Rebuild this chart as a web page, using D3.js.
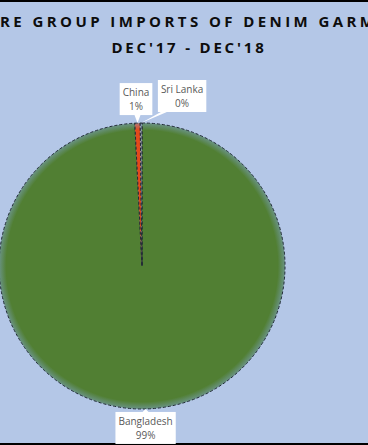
<!DOCTYPE html>
<html>
<head>
<meta charset="utf-8">
<script src="https://cdn.jsdelivr.net/npm/d3@7"></script>
<style>
  body { margin: 0; background: #b4c7e7; }
  svg { display: block; }
</style>
</head>
<body>
<div id="pie-chart-area"></div>
<script>
/* javascript */

// data (shares in %)
var categories = ["Bangladesh", "China", "Sri Lanka"];
var shares = [99.2, 0.6, 0.2];
var sliceColors = ["#517f33", "#e4491b", "#8a96a6"];
var titleLines = ["RE GROUP IMPORTS OF DENIM GARM", "DEC'17 - DEC'18"];

// where each callout box sits relative to its slice edge
var labelOffsets = [
  { dx: 0, dy: 19 },
  { dx: -1.5, dy: -24 },
  { dx: 41, dy: -27 }
];

var width = 368;
var height = 445;
var cx = 142, cy = 266, radius = 143;

var data = categories.map((c, i) => ({ name: c, value: shares[i], color: sliceColors[i], off: labelOffsets[i] }));

var svg = d3
  .select("#pie-chart-area")
  .append("svg")
  .attr("width", width)
  .attr("height", height);

svg.append("rect")
  .attr("width", width)
  .attr("height", height)
  .attr("fill", "#b4c7e7");

// frame lines top and bottom
svg.append("rect").attr("x", 0).attr("y", 0).attr("width", width).attr("height", 2).attr("fill", "#000");
svg.append("rect").attr("x", 0).attr("y", 443).attr("width", width).attr("height", 2).attr("fill", "#000");

// title (first line is cut by the picture's edges, as in the original)
var title = svg.append("g")
  .attr("font-family", "'Open Sans', sans-serif")
  .attr("font-weight", "bold")
  .attr("font-size", "15px")
  .attr("fill", "#0d0d0d");

title.append("text")
  .attr("x", 0)
  .attr("y", 27)
  .attr("textLength", 374)
  .attr("lengthAdjust", "spacing")
  .text(titleLines[0]);

title.append("text")
  .attr("x", 189)
  .attr("y", 53)
  .attr("text-anchor", "middle")
  .attr("letter-spacing", "2.8px")
  .text(titleLines[1]);

// soft edge gradients (coordinates are in the slice group's space)
var defs = svg.append("defs");
data.forEach((d, i) => {
  var g = defs.append("radialGradient")
    .attr("id", "grad" + i)
    .attr("gradientUnits", "userSpaceOnUse")
    .attr("cx", 0).attr("cy", 0).attr("r", radius);
  g.append("stop").attr("offset", "0.95").attr("stop-color", d.color);
  g.append("stop").attr("offset", "1").attr("stop-color", d3.interpolate(d.color, "#7fa3c8")(0.55));
});

var pie = d3.pie().sort(null).value((d) => d.value);
var arc = d3.arc().innerRadius(0).outerRadius(radius);
var arcs = pie(data);

var chart = svg.append("g").attr("transform", `translate(${cx}, ${cy})`);

chart.selectAll(".slice")
  .data(arcs)
  .join("path")
  .attr("class", "slice")
  .attr("d", arc)
  .attr("fill", (d, i) => `url(#grad${i})`)
  .attr("stroke", "#222b36")
  .attr("stroke-width", 1)
  .attr("stroke-dasharray", "3,2");

// callout labels
var labels = chart.selectAll(".label")
  .data(arcs)
  .join("g")
  .attr("class", "label");

labels.each(function (d) {
  var g = d3.select(this);
  var mid = (d.startAngle + d.endAngle) / 2;
  var ax = radius * Math.sin(mid);
  var ay = -radius * Math.cos(mid);
  var bx = ax + d.data.off.dx;
  var by = ay + d.data.off.dy;

  var leader = g.append("path").attr("fill", "#fff");
  var box = g.append("rect").attr("fill", "#fff");
  var font = (t) => t
    .attr("font-family", "'Open Sans', sans-serif")
    .attr("font-size", "10px")
    .attr("fill", "#595959")
    .attr("text-anchor", "middle");

  var name = g.append("text").call(font).attr("x", bx).attr("y", by - 3).text(d.data.name);
  g.append("text").call(font).attr("x", bx).attr("y", by + 11).text(Math.round(d.data.value) + "%");

  var w = name.node().getBBox().width;
  var x0 = bx - w / 2 - 3, x1 = bx + w / 2 + 3;
  var y0 = by - 16, y1 = by + 16;
  box.attr("x", x0).attr("y", y0).attr("width", x1 - x0).attr("height", y1 - y0);

  // little wedge from the box edge to the slice
  var edgeY = ay < by ? y0 : y1;
  var px = Math.max(x0 + 3, Math.min(x1 - 9, ax - 3));
  leader.attr("d", `M${ax},${ay}L${px},${edgeY}L${px + 6},${edgeY}Z`);
});
</script>
</body>
</html>
